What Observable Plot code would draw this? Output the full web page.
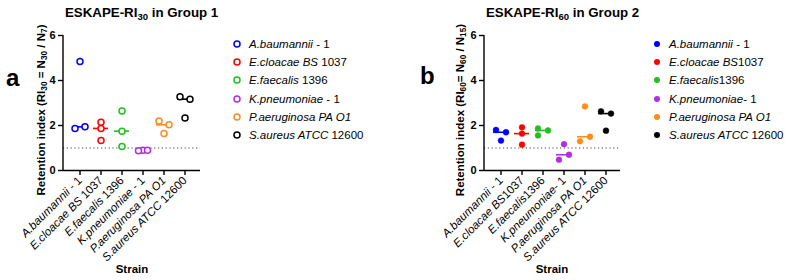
<!DOCTYPE html>
<html><head><meta charset="utf-8">
<script src="https://cdn.jsdelivr.net/npm/d3@7"></script>
<script src="https://cdn.jsdelivr.net/npm/@observablehq/plot@0.6"></script>
<style>
body{margin:0;background:#fff;font-family:"Liberation Sans",Arial,sans-serif;color:#000;}
#root{position:relative;width:791px;height:280px;overflow:hidden;background:#fff;}
.abs{position:absolute;white-space:nowrap;}
sub{font-size:72%;vertical-align:-0.28em;line-height:0;}
.title{font-weight:bold;font-size:13.3px;line-height:13px;}
.ylab{font-weight:bold;font-size:11.5px;line-height:11px;transform:translate(-50%,-50%) rotate(-90deg);}
.letter{font-weight:bold;font-size:24px;line-height:24px;}
.strain{font-weight:bold;font-size:11.5px;line-height:12px;transform:translateX(-50%);}
.leg{font-size:11.5px;line-height:12px;}
.leg svg{position:absolute;left:0;top:2px;}
.leg span{position:absolute;left:16px;top:0;}
</style></head>
<body><div id="root"></div>
<script>
// ---- data ----
const strainsA = ["A.baumannii - 1", "E.cloacae BS 1037", "E.faecalis 1396", "K.pneumoniae - 1", "P.aeruginosa PA O1", "S.aureus ATCC 12600"];
const italicA = ["A.baumannii", "E.cloacae BS", "E.faecalis", "K.pneumoniae", "P.aeruginosa PA O1", "S.aureus ATCC"];
const restA = [" - 1", " 1037", " 1396", " - 1", "", " 12600"];
const strainsB = ["A.baumannii - 1", "E.cloacae BS1037", "E.faecalis1396", "K.pneumoniae- 1", "P.aeruginosa PA O1", "S.aureus ATCC 12600"];
const italicB = ["A.baumannii", "E.cloacae BS", "E.faecalis", "K.pneumoniae", "P.aeruginosa PA O1", "S.aureus ATCC"];
const restB = [" - 1", "1037", "1396", "- 1", "", " 12600"];
const valuesA = [
  [1.87, 1.94, 4.85],
  [2.15, 1.87, 1.33],
  [2.65, 1.75, 1.07],
  [0.88, 0.90, 0.90],
  [2.20, 2.03, 1.65],
  [3.28, 3.17, 2.33]
];
const valuesB = [
  [1.80, 1.70, 1.33],
  [1.92, 1.64, 1.15],
  [1.87, 1.78, 1.56],
  [1.17, 0.48, 0.70],
  [2.85, 1.30, 1.50],
  [2.63, 2.53, 1.77]
];
const yTicks = [0, 2, 4, 6];
const colors = ["#0000ff", "#ff0000", "#1fc01f", "#b02ee6", "#ff8c1a", "#000000"];

const root = document.getElementById("root");
const FONT = '"Liberation Sans", Arial, sans-serif';

function addDiv(cls, html, left, top) {
  const d = document.createElement("div");
  d.className = "abs " + cls;
  d.innerHTML = html;
  d.style.left = left + "px";
  d.style.top = top + "px";
  root.appendChild(d);
  return d;
}

function panel(o) {
  const W = 230, H = 280, mt = 35, mb = 110, mr = 30, ml = o.ml, step = 21.3;
  const pxPerUnit = (H - mt - mb) / 6;
  const rows = [];
  o.strains.forEach((s, i) => o.values[i].forEach((v, j) => rows.push({strain: s, value: v, k: i, j})));
  // beeswarm-like horizontal dodge of close points
  o.strains.forEach((s, i) => {
    const pts = rows.filter(r => r.k === i).sort((a, b) => a.value - b.value);
    const clusters = [[pts[0]]];
    for (let t = 1; t < pts.length; t++) {
      if ((pts[t].value - pts[t - 1].value) * pxPerUnit < 5.5) clusters[clusters.length - 1].push(pts[t]);
      else clusters.push([pts[t]]);
    }
    for (const c of clusters) {
      if (c.length === 1) { c[0].off = 0; continue; }
      const span = (c[c.length - 1].value - c[0].value) * pxPerUnit;
      const ord = c.slice().sort((a, b) => a.j - b.j);
      if (span < 3 && c.length >= 3) ord.forEach((p, q) => p.off = (q - (ord.length - 1) / 2) * 4.5);
      else ord.forEach((p, q) => p.off = q % 2 === 0 ? -5 : 5);
    }
  });
  const medians = o.strains.map((s, i) => ({strain: s, value: d3.median(o.values[i])}));
  const offs = [...new Set(rows.map(r => r.off))];
  const dotStyle = o.filled
    ? {fill: "strain", stroke: "strain", strokeWidth: 0.5, r: 2.9}
    : {fill: "white", stroke: "strain", strokeWidth: 1.5, r: 3};
  const chart = Plot.plot({
    width: W, height: H, marginLeft: ml, marginRight: mr, marginTop: mt, marginBottom: mb,
    style: {fontFamily: FONT, fontSize: "11.5px", color: "#000", background: "transparent", overflow: "visible"},
    x: {type: "band", domain: o.strains, range: [ml + 5, ml + 5 + 6 * step], padding: 0, label: null},
    y: {domain: [0, 6], label: null},
    color: {domain: o.strains, range: colors},
    marks: [
      Plot.ruleY([1], {stroke: "#444", strokeDasharray: "1.2,2.6", strokeWidth: 1}),
      Plot.ruleY([0], {stroke: "#000", strokeWidth: 1.4}),
      Plot.axisY({ticks: yTicks, tickFormat: d3.format("d"), tickSize: 5, tickPadding: 3, fontWeight: "bold", fontSize: 11, label: null, strokeWidth: 1.4}),
      Plot.axisX({tickSize: 5, tickRotate: -45, tickPadding: 3, fontSize: 11.5, label: null, strokeWidth: 1.4}),
      Plot.tickY(medians, {x: "strain", y: "value", stroke: "strain", strokeWidth: 1.6, insetLeft: 3, insetRight: 3}),
      ...offs.map(off => Plot.dot(rows.filter(r => r.off === off), {x: "strain", y: "value", dx: off, ...dotStyle}))
    ]
  });
  const sel = d3.select(chart);
  sel.selectAll('g[aria-label="x-axis tick label"] text').each(function () {
    const t = this.textContent;
    const i = o.strains.indexOf(t);
    if (i < 0) return;
    const s = d3.select(this);
    s.text(null);
    s.append("tspan").attr("font-style", "italic").text(o.italic[i]);
    if (o.rest[i]) s.append("tspan").text(o.rest[i]);
  });
  const ys = chart.scale("y");
  sel.append("line").attr("x1", ml).attr("x2", ml)
    .attr("y1", ys.apply(0) + 0.7).attr("y2", ys.apply(6))
    .attr("stroke", "#000").attr("stroke-width", 1.4);
  chart.style.position = "absolute";
  chart.style.left = o.left + "px";
  chart.style.top = "0px";
  root.appendChild(chart);

  // titles and labels
  addDiv("title", o.title, o.left + ml + 2, 6);
  addDiv("ylab", o.ylabel, o.ylx, 110);
  addDiv("letter", o.letter, o.letterX, o.letterY);
  addDiv("strain", "Strain", o.strainX, 263);
  // legend
  o.strains.forEach((s, i) => {
    const cy = 44 + i * 18.2;
    const mark = o.filled
      ? `<circle cx="4" cy="4" r="3" fill="${colors[i]}"/>`
      : `<circle cx="4" cy="4" r="3" fill="white" stroke="${colors[i]}" stroke-width="1.5"/>`;
    addDiv("leg", `<svg width="8" height="8">${mark}</svg><span><i>${o.italic[i]}</i>${o.rest[i]}</span>`, o.legX - 4, cy - 6);
  });
}

panel({
  strains: strainsA, italic: italicA, rest: restA, values: valuesA, filled: false,
  left: 0, ml: 63,
  title: "ESKAPE-RI<sub>30</sub> in Group 1",
  ylabel: "Retention index (RI<sub>30</sub> = N<sub>30</sub> / N<sub>7</sub>)",
  ylx: 41, letter: "a", letterX: 6, letterY: 66, strainX: 132, legX: 237
});
panel({
  strains: strainsB, italic: italicB, rest: restB, values: valuesB, filled: true,
  left: 420, ml: 64,
  title: "ESKAPE-RI<sub>60</sub> in Group 2",
  ylabel: "Retention index (RI<sub>60</sub>= N<sub>60</sub> / N<sub>15</sub>)",
  ylx: 460, letter: "b", letterX: 420, letterY: 64, strainX: 552, legX: 657
});
</script>
</body></html>
